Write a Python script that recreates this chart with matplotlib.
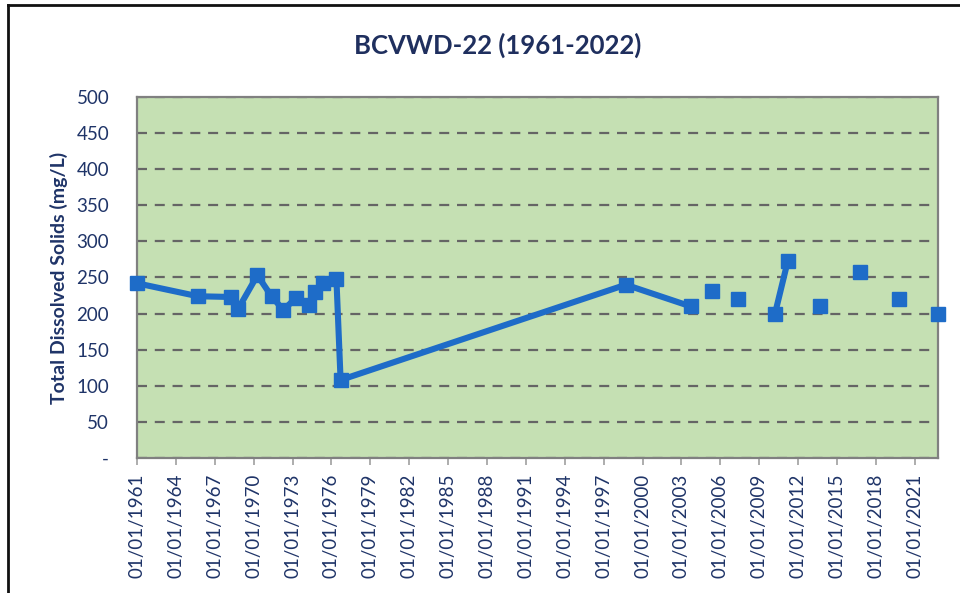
import numpy as np
import matplotlib
matplotlib.use('Agg')
import matplotlib.pyplot as plt
import matplotlib.dates as mdates
from matplotlib.lines import Line2D
from datetime import datetime

# sample dates and TDS values (mg/L)
sample_dates = ['1961-01-01', '1965-09-15', '1968-04-15', '1968-10-15', '1970-04-15',
                '1971-05-20', '1972-04-15', '1973-04-15', '1974-04-15', '1974-09-15',
                '1975-05-20', '1976-05-20', '1976-09-15', '1998-09-15', '2003-09-15',
                '2005-05-20', '2007-05-20', '2010-03-15', '2011-03-15', '2013-09-15',
                '2016-10-15', '2019-10-15', '2022-10-15']
tds = [242, 224, 223, 206, 253,
       224, 205, 222, 212, 230,
       242, 248, 108, 240, 210,
       231, 220, 199, 273, 210,
       258, 220, 199]
# whether each sample is joined by a line to the previous one
joined = [False, True, True, True, True,
          True, True, True, True, True,
          True, True, True, True, True,
          False, False, False, True, False,
          False, False, False]

tick_years = list(range(1961, 2022, 3))
y_ticks = [0, 50, 100, 150, 200, 250, 300, 350, 400, 450, 500]
y_tick_labels = ['-', '50', '100', '150', '200', '250', '300', '350', '400', '450', '500']

navy = '#1F3468'
blue = '#1E6CC8'

plt.rcParams['font.family'] = ['Lato', 'DejaVu Sans']


def main():
    dates = [datetime.strptime(d, '%Y-%m-%d') for d in sample_dates]

    # insert NaN between samples that are not joined so the line breaks there
    xs, ys = [], []
    for d, v, j in zip(dates, tds, joined):
        if xs and not j:
            xs.append(d)
            ys.append(np.nan)
        xs.append(d)
        ys.append(v)

    fig = plt.figure(figsize=(9.6, 5.93), dpi=100)
    ax = fig.add_axes([0.1427, 0.2277, 0.8344, 0.6087])
    ax.set_facecolor('#C5E0B3')

    ax.plot(xs, ys, color=blue, linewidth=4.4, solid_joinstyle='round', zorder=3, clip_on=False)
    ax.plot(dates, tds, linestyle='none', marker='s', markersize=10.5, color=blue,
            zorder=4, clip_on=False)

    ax.set_xlim(dates[0], dates[-1])
    ax.set_ylim(0, 500)

    ax.set_yticks(y_ticks)
    ax.set_yticklabels(y_tick_labels)
    ax.yaxis.grid(True, color='#656565', linestyle=(0, (4.5, 3.5)), linewidth=1.6)
    ax.set_axisbelow(True)

    ax.set_xticks([datetime(y, 1, 1) for y in tick_years])
    ax.xaxis.set_major_formatter(mdates.DateFormatter('%d/%m/%Y'))
    plt.setp(ax.get_xticklabels(), rotation=90)

    ax.tick_params(axis='y', length=0, pad=20, labelsize=13.5, labelcolor=navy)
    ax.tick_params(axis='x', length=5, width=1.2, color='#A0A0A0', pad=6,
                   labelsize=13.5, labelcolor=navy)
    for s in ax.spines.values():
        s.set_color('#808080')
        s.set_linewidth(1.6)

    ax.set_ylabel('Total Dissolved Solids (mg/L)', fontsize=14, fontweight='bold',
                  color=navy, labelpad=6)
    fig.text(0.518, 0.924, 'BCVWD-22 (1961-2022)', ha='center', va='center',
             fontsize=18.5, fontweight='bold', color='#1F2F5E')

    # outer chart frame (left and top edges visible)
    fig.add_artist(Line2D([8 / 960, 8 / 960], [0, 1 - 5 / 593], transform=fig.transFigure,
                          color='#111111', linewidth=2))
    fig.add_artist(Line2D([8 / 960, 1], [1 - 5 / 593, 1 - 5 / 593], transform=fig.transFigure,
                          color='#111111', linewidth=2))

    fig.savefig('out.png', dpi=100)


if __name__ == "__main__":
    main()
